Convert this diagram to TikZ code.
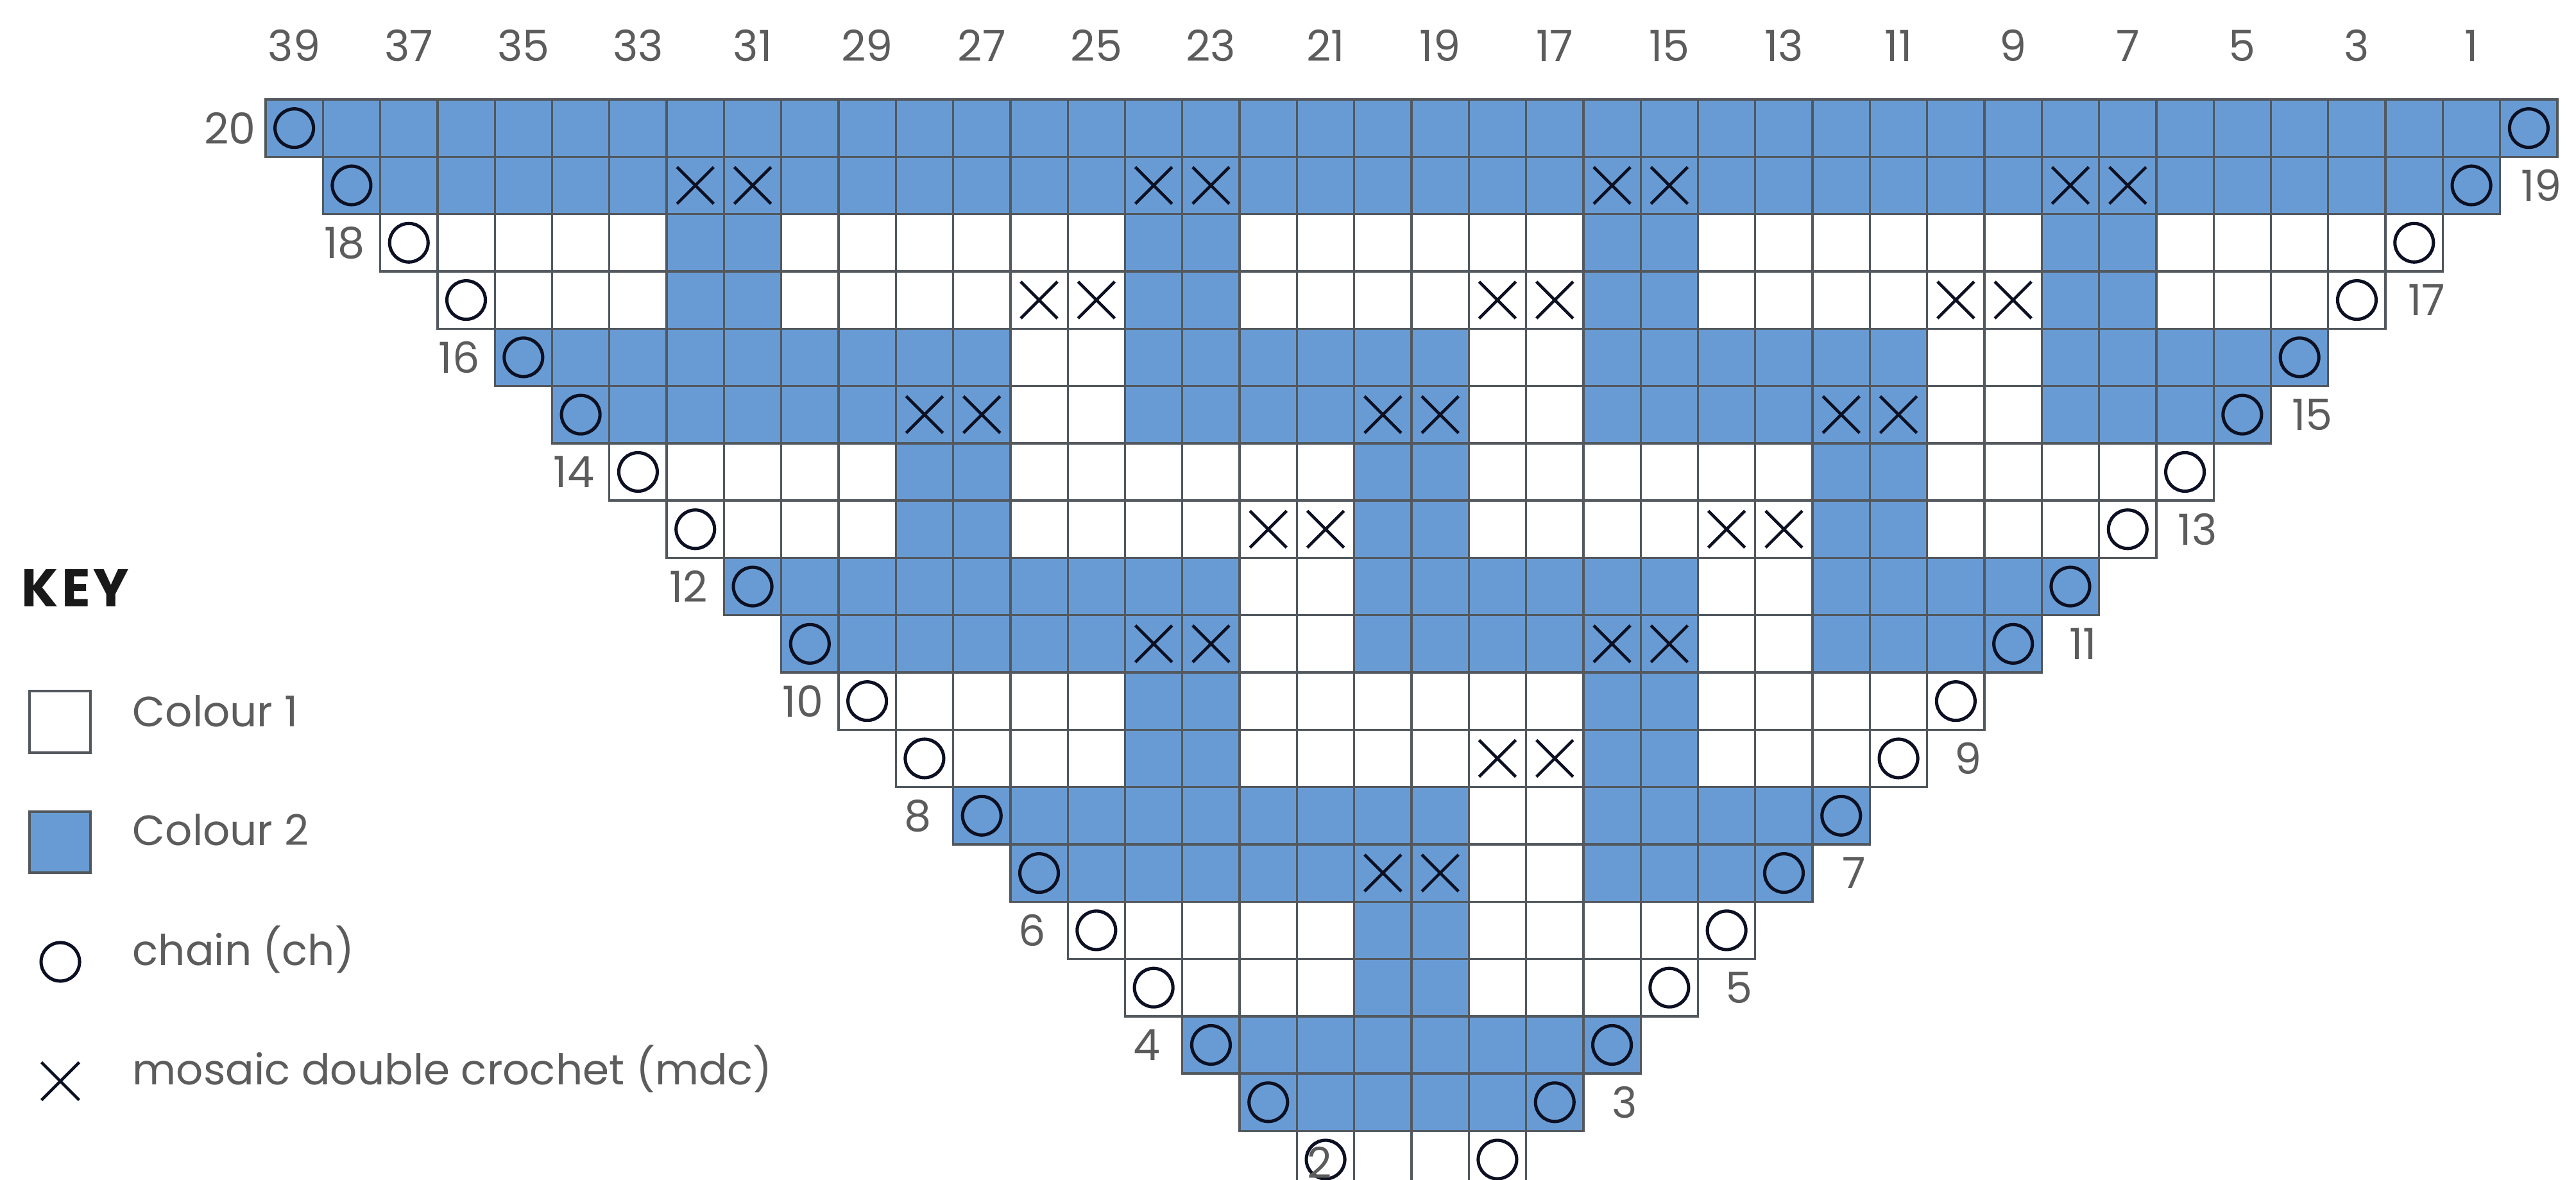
\documentclass[tikz,border=0pt]{standalone}
\usepackage{fontspec}
\setmainfont{Poppins}
\usepackage{tikz}
\definecolor{colourtwo}{RGB}{104,155,211}
\definecolor{gridgrey}{RGB}{82,88,94}
\definecolor{labelgrey}{RGB}{92,92,92}
\definecolor{inkblack}{RGB}{12,16,34}
\definecolor{keyblack}{RGB}{25,25,25}

\begin{document}
\begin{tikzpicture}[x=0.893cm, y=-0.893cm,
    cellbox/.style={draw=gridgrey, line width=0.95pt},
    chainmark/.style={draw=inkblack, line width=1.45pt},
    mdcmark/.style={draw=inkblack, line width=1.3pt},
    num/.style={text=labelgrey, font=\fontsize{19}{21}\selectfont, inner sep=0pt},
    keytext/.style={text=labelgrey, font=\fontsize{18.8}{21}\selectfont, inner sep=0pt, anchor=base west}]
    \clip (-4.636,-1.736) rectangle (40.325,18.847);
    \foreach \r/\runs in {20/{0/39}, 19/{1/38}, 18/{7/8,15/16,23/24,31/32}, 17/{7/8,15/16,23/24,31/32},
                          16/{4/12,15/20,23/28,31/35}, 15/{5/12,15/20,23/28,31/34}, 14/{11/12,19/20,27/28},
                          13/{11/12,19/20,27/28}, 12/{8/16,19/24,27/31}, 11/{9/16,19/24,27/30},
                          10/{15/16,23/24}, 9/{15/16,23/24}, 8/{12/20,23/27}, 7/{13/20,23/26},
                          6/{19/20}, 5/{19/20}, 4/{16/23}, 3/{17/22}}{
            \foreach \a/\b in \runs
                \fill[colourtwo] (\a,20-\r) rectangle (\b+1,21-\r);
        }
    \foreach \r in {2,...,20}{
            \pgfmathtruncatemacro\first{20-\r}
            \pgfmathtruncatemacro\last{19+\r}
            \foreach \j in {\first,...,\last}
                \draw[cellbox] (\j,20-\r) rectangle ++(1,1);
            \draw[chainmark] (\first+0.5,20.5-\r) circle (0.3cm);
            \draw[chainmark] (\last+0.5,20.5-\r) circle (0.3cm);
        }
    \foreach \r/\js in {19/{7,8,15,16,23,24,31,32}, 17/{13,14,21,22,29,30}, 15/{11,12,19,20,27,28},
                        13/{17,18,25,26}, 11/{15,16,23,24}, 9/{21,22}, 7/{19,20}}{
            \foreach \j in \js
                \draw[mdcmark] (\j+0.18,20.18-\r) -- (\j+0.82,20.82-\r) (\j+0.18,20.82-\r) -- (\j+0.82,20.18-\r);
        }
    \foreach \k in {0,...,19}{
            \pgfmathtruncatemacro\c{39-2*\k}
            \node[num, anchor=base] (col\c) at (2*\k+0.5,-0.672) {\c};
        }
    \foreach \r in {20,18,...,4}
        \node[num] (row\r) at (20-\r-0.62,20.5-\r) {\r};
    \foreach \r in {19,17,...,3}
        \node[num] (row\r) at (20+\r+0.72,20.5-\r) {\r};
    \node[num] (row2) at (18.4,18.55) {2};

    \node[anchor=base west, inner sep=0pt, text=keyblack, font=\fontsize{23.5}{25}\selectfont\bfseries\addfontfeature{LetterSpace=6}] (keytitle) at (-4.267,8.847) {KEY};
    \draw[cellbox, fill=white] (-4.121,10.325) rectangle (-3.057,11.4);
    \node[keytext] (keyone) at (-2.329,10.95) {Colour 1};
    \draw[cellbox, fill=colourtwo] (-4.121,12.43) rectangle (-3.057,13.494);
    \node[keytext] (keytwo) at (-2.329,13.02) {Colour 2};
    \draw[chainmark] (-3.583,15.05) circle (0.3cm);
    \node[keytext] (keychain) at (-2.329,15.106) {chain (ch)};
    \draw[mdcmark] (-3.913,16.803) -- (-3.253,17.463) (-3.913,17.463) -- (-3.253,16.803);
    \node[keytext] (keymdc) at (-2.329,17.19) {mosaic double crochet (mdc)};
\end{tikzpicture}
\end{document}
